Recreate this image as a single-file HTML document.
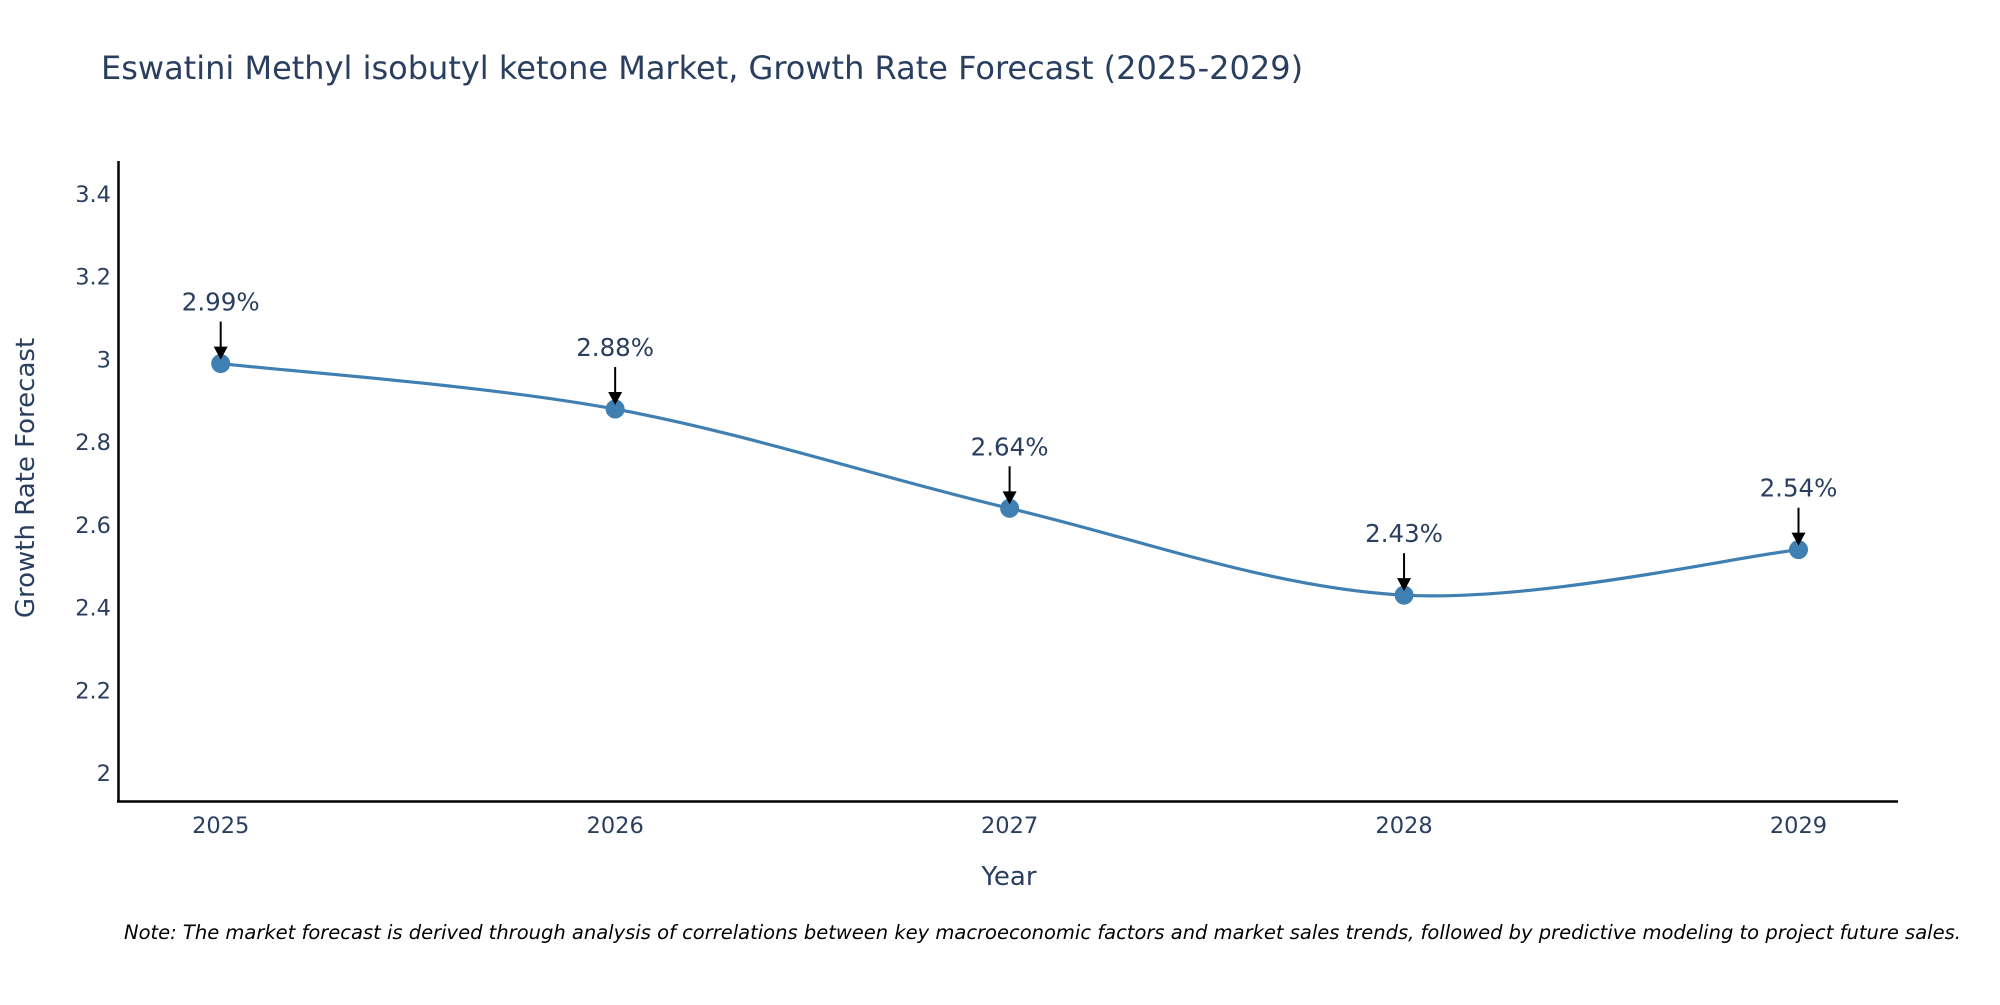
<!DOCTYPE html>
<html><head><meta charset="utf-8"><style>
body{margin:0;background:#fff;}
svg text{font-family:"DejaVu Sans","Liberation Sans",sans-serif;fill:#2a3f5f;}
</style></head><body>
<svg id="chart" width="2000" height="1000" viewBox="0 0 2000 1000" xmlns="http://www.w3.org/2000/svg">
<text x="101" y="79" font-size="32">Eswatini Methyl isobutyl ketone Market, Growth Rate Forecast (2025-2029)</text>
<line x1="118.5" y1="161" x2="118.5" y2="802" stroke="#000" stroke-width="2.5"/>
<line x1="117" y1="801.5" x2="1898" y2="801.5" stroke="#000" stroke-width="2.5"/>
<g id="yticks"></g><g id="xticks"></g>
<path id="line" fill="none" stroke="#3f7fb1" stroke-width="3.2"/>
<g id="points"></g><g id="annots"></g>
<text x="1009" y="885" font-size="26" text-anchor="middle">Year</text>
<text transform="translate(34,478) rotate(-90)" font-size="26" text-anchor="middle">Growth Rate Forecast</text>
<text x="124" y="939" font-size="19.5" font-style="italic" style="fill:#000">Note: The market forecast is derived through analysis of correlations between key macroeconomic factors and market sales trends, followed by predictive modeling to project future sales.</text>
</svg>
<script>
const years = [2025, 2026, 2027, 2028, 2029];
const growth = [2.99, 2.88, 2.64, 2.43, 2.54];
const labels = ["2.99%", "2.88%", "2.64%", "2.43%", "2.54%"];
const yTicks = [2, 2.2, 2.4, 2.6, 2.8, 3, 3.2, 3.4];
const yTickLabels = ["2", "2.2", "2.4", "2.6", "2.8", "3", "3.2", "3.4"];

const NS = "http://www.w3.org/2000/svg";
function xs(v){return 220.7 + (v-2025)*(1798.5-220.7)/4;}
function ys(v){return 773 - (v-2)*(773-194)/1.4;}
function mk(tag, attrs, parent){const e=document.createElementNS(NS,tag);for(const k in attrs)e.setAttribute(k,attrs[k]);document.getElementById(parent).appendChild(e);return e;}

yTicks.forEach((t,i)=>{
  const e=mk('text',{x:111,y:ys(t)+8,'font-size':22.5,'text-anchor':'end'},'yticks');
  
  
  e.textContent=yTickLabels[i];
});
years.forEach(y=>{
  const e=mk('text',{x:xs(y),y:833,'font-size':22.5,'text-anchor':'middle'},'xticks');
  
  
  e.textContent=String(y);
});
const P=years.map((y,i)=>[xs(y),ys(growth[i])]);
let d=`M${P[0][0]},${P[0][1]}`;
for(let i=0;i<P.length-1;i++){
  const p0=P[Math.max(i-1,0)],p1=P[i],p2=P[i+1],p3=P[Math.min(i+2,P.length-1)];
  const s=6;
  d+=` C${p1[0]+(p2[0]-p0[0])/s},${p1[1]+(p2[1]-p0[1])/s} ${p2[0]-(p3[0]-p1[0])/s},${p2[1]-(p3[1]-p1[1])/s} ${p2[0]},${p2[1]}`;
}
document.getElementById('line').setAttribute('d',d);
P.forEach((p,i)=>{
  const c=mk('circle',{cx:p[0],cy:p[1],r:9.5,fill:'#3f7fb1'},'points');
  
  
  const l=mk('line',{x1:p[0],y1:p[1]-42,x2:p[0],y2:p[1]-14,stroke:'#000','stroke-width':2},'annots');
  
  
  const a=mk('path',{d:`M${p[0]-7},${p[1]-17} L${p[0]+7},${p[1]-17} L${p[0]},${p[1]-4} Z`,fill:'#000'},'annots');
  
  
  const t=mk('text',{x:p[0],y:p[1]-53,'font-size':24.5,'text-anchor':'middle'},'annots');
  
  
  t.textContent=labels[i];
});
</script>
</body></html>
